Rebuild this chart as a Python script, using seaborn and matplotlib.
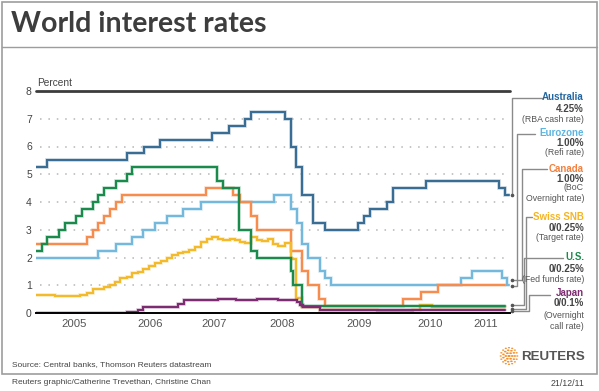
import matplotlib
matplotlib.use("Agg")
import matplotlib.pyplot as plt
import seaborn as sns
import pandas as pd
import numpy as np
from matplotlib.lines import Line2D
from matplotlib.patches import Rectangle, Circle
import matplotlib.patheffects as pe

# ---------------- data (decimal years, percent) ----------------
banks = ["Australia", "Eurozone", "Canada", "Swiss SNB", "U.S.", "Japan"]

aus_t = [2004.99, 2005.145, 2006.263, 2006.507, 2006.732, 2007.461, 2007.704, 2007.930,
         2008.014, 2008.493, 2008.573, 2008.648, 2008.728, 2008.892, 2009.052, 2009.525,
         2009.606, 2009.690, 2009.925, 2010.010, 2010.479, 2011.511, 2011.592, 2011.648]
aus_v = [5.25, 5.5, 5.75, 6.0, 6.25, 6.5, 6.75, 7.0, 7.25, 7.0, 6.0, 5.25, 4.25, 3.25,
         3.0, 3.25, 3.5, 3.75, 4.0, 4.5, 4.75, 4.5, 4.25, 4.25]

euro_t = [2004.99, 2005.863, 2006.108, 2006.342, 2006.497, 2006.662, 2006.827, 2007.061,
          2007.306, 2008.338, 2008.573, 2008.658, 2008.732, 2008.821, 2008.986, 2009.063,
          2009.141, 2010.968, 2011.131, 2011.545, 2011.615, 2011.648]
euro_v = [2.0, 2.25, 2.5, 2.75, 3.0, 3.25, 3.5, 3.75, 4.0, 4.25, 3.75, 3.25, 2.5, 2.0,
          1.5, 1.25, 1.0, 1.25, 1.5, 1.25, 1.0, 1.0]

can_t = [2004.99, 2005.708, 2005.785, 2005.863, 2005.944, 2006.028, 2006.108, 2006.193,
         2007.376, 2007.765, 2007.859, 2008.021, 2008.094, 2008.573, 2008.728, 2008.821,
         2008.976, 2009.056, 2010.159, 2010.404, 2010.644, 2011.592]
can_v = [2.5, 2.75, 3.0, 3.25, 3.5, 3.75, 4.0, 4.25, 4.5, 4.25, 4.0, 3.5, 3.0, 2.25,
         1.5, 1.0, 0.5, 0.25, 0.5, 0.75, 1.0, 1.0]

swiss_t = [2004.99, 2005.254, 2005.394, 2005.606, 2005.700, 2005.793, 2005.944, 2006.028,
           2006.099, 2006.169, 2006.263, 2006.342, 2006.427, 2006.497, 2006.577, 2006.662,
           2006.742, 2006.827, 2006.906, 2006.990, 2007.061, 2007.141, 2007.225, 2007.306,
           2007.390, 2007.469, 2007.554, 2007.624, 2007.718, 2007.789, 2007.859, 2007.930,
           2008.014, 2008.094, 2008.164, 2008.257, 2008.327, 2008.398, 2008.493, 2008.573,
           2008.648, 2008.728, 2008.986, 2009.789, 2010.155, 2010.296, 2010.394, 2010.559,
           2011.592]
swiss_v = [0.66, 0.63, 0.60, 0.65, 0.71, 0.85, 0.92, 1.0, 1.13, 1.25, 1.31, 1.43, 1.49,
           1.57, 1.69, 1.79, 1.87, 2.0, 2.09, 2.15, 2.21, 2.27, 2.39, 2.57, 2.67, 2.73,
           2.67, 2.63, 2.67, 2.63, 2.57, 2.51, 2.75, 2.63, 2.59, 2.65, 2.49, 2.43, 2.51,
           1.95, 0.53, 0.2, 0.12, 0.08, 0.05, 0.12, 0.28, 0.22, 0.22]

us_t = [2004.99, 2005.066, 2005.145, 2005.310, 2005.394, 2005.545, 2005.630, 2005.785,
        2005.863, 2005.944, 2006.108, 2006.263, 2006.334, 2007.531, 2007.615, 2007.849,
        2008.014, 2008.094, 2008.573, 2008.606, 2008.728, 2011.592]
us_v = [2.25, 2.5, 2.75, 3.0, 3.25, 3.5, 3.75, 4.0, 4.25, 4.5, 4.75, 5.0, 5.25, 4.75,
        4.5, 3.0, 2.25, 2.0, 1.5, 1.0, 0.25, 0.25]

jp_t = [2004.99, 2006.263, 2006.427, 2006.497, 2006.990, 2007.070, 2007.300, 2007.550,
        2007.800, 2008.100, 2008.400, 2008.658, 2008.704, 2008.751, 2008.986, 2011.592]
jp_v = [0.0, 0.03, 0.1, 0.23, 0.33, 0.48, 0.46, 0.49, 0.47, 0.49, 0.48, 0.4, 0.3, 0.2,
        0.1, 0.1]

year_labels = ["2005", "2006", "2007", "2008", "2009", "2010", "2011"]
year_ticks = [2006, 2007, 2008, 2009, 2010, 2011]
year_label_pos = [2005.517, 2006.587, 2007.490, 2008.451, 2009.532, 2010.535, 2011.324]

rate_now = ["4.25%", "1.00%", "1.00%", "0/0.25%", "0/0.25%", "0/0.1%"]
rate_desc = ["(RBA cash rate)", "(Refi rate)", "(BoC\nOvernight rate)", "(Target rate)",
             "(Fed funds rate)", "(Overnight\ncall rate)"]

line_colors = ["#3a6d94", "#74b9dc", "#f68d4e", "#f3bb2b", "#1b8a4d", "#7c2c70"]
label_colors = ["#2266a0", "#5db4e0", "#f2813f", "#f4b526", "#1b8a4d", "#7c2c70"]

series = {"Australia": (aus_t, aus_v), "Eurozone": (euro_t, euro_v),
          "Canada": (can_t, can_v), "Swiss SNB": (swiss_t, swiss_v),
          "U.S.": (us_t, us_v), "Japan": (jp_t, jp_v)}

frames = []
for b in banks:
    t, v = series[b]
    frames.append(pd.DataFrame({"date": t, "rate": v, "bank": b}))
df = pd.concat(frames, ignore_index=True)

# ---------------- figure ----------------
sns.set_style("white")
plt.rcParams["font.family"] = ["Liberation Sans", "DejaVu Sans"]

W, H = 599, 391
fig = plt.figure(figsize=(W / 100, H / 100), dpi=100)
fx = lambda px: px / W
fy = lambda py: 1 - py / H

ax = fig.add_axes([fx(36), fy(313), (510 - 36) / W, (313 - 91) / H])

x0 = 2005 + (36 - 37) / 71
x1 = 2005 + (510 - 37) / 71

sns.lineplot(data=df, x="date", y="rate", hue="bank", hue_order=banks,
             palette=dict(zip(banks, line_colors)), drawstyle="steps-post",
             estimator=None, sort=False, legend=False, linewidth=1.5, ax=ax, zorder=3)
for ln, c in zip(ax.get_lines(), line_colors):
    ln.set_path_effects([pe.Stroke(linewidth=2.6, foreground=c, alpha=0.28), pe.Normal()])
    ln.set_solid_joinstyle("miter")

ax.set_xlim(x0, x1)
ax.set_ylim(0, 8)
for s in ["top", "right", "left"]:
    ax.spines[s].set_visible(False)
ax.spines["bottom"].set_color("black")
ax.spines["bottom"].set_linewidth(1.4)
ax.spines["bottom"].set_zorder(5)

ax.axhline(8, color="#3c3c3c", lw=2.0, clip_on=False, zorder=4)
gx0 = 2005 + (40 - 37) / 71
ax.hlines([1, 2, 3, 4, 5, 6, 7], gx0, x1, colors="#b5b5b5", lw=1.1,
          linestyles=(0, (1, 4.5)), zorder=1)

ax.set_yticks(range(0, 9))
ax.set_yticklabels([str(i) for i in range(0, 9)])
ax.tick_params(axis="y", length=0, pad=3, labelsize=7.5, labelcolor="#444444")

ax.set_xticks(year_ticks)
ax.set_xticklabels([""] * len(year_ticks))
ax.tick_params(axis="x", which="major", direction="out", length=4.5, width=1.1,
               color="black")
ax.set_xticks(year_label_pos, minor=True)
ax.set_xticklabels(year_labels, minor=True)
ax.tick_params(axis="x", which="minor", length=0, pad=4, labelsize=8.2,
               labelcolor="#555555")
ax.set_xlabel("")
ax.set_ylabel("")
ax.grid(False)

fig.text(fx(37), fy(83), "Percent", fontsize=7.3, color="#444444", va="center")

# ---------------- frame & title ----------------
fig.add_artist(Rectangle((fx(1.5), fy(374)), (597 - 1.5) / W, (374 - 1.5) / H,
                         transform=fig.transFigure, fill=False, ec="#9d9d9d", lw=1.2))
fig.add_artist(Line2D([fx(1.5), fx(597)], [fy(47), fy(47)], color="#9d9d9d", lw=1.0))
fig.text(fx(11), fy(24), "World interest rates", fontsize=20.5, fontweight="bold",
         color="#3d3d3d", va="center", family=["Lato", "DejaVu Sans"])

fig.text(fx(12), fy(365), "Source: Central banks, Thomson Reuters datastream",
         fontsize=6.0, color="#444444", va="center")
fig.text(fx(12), fy(383), "Reuters graphic/Catherine Trevethan, Christine Chan",
         fontsize=6.0, color="#444444", va="center")
fig.text(fx(584), fy(383), "21/12/11", fontsize=6.3, color="#444444", va="center",
         ha="right")

# ---------------- right-hand labels ----------------
name_y = [97, 133, 169, 217.5, 256.5, 292.5]
val_y = [108.5, 143.5, 179.5, 228, 268.5, 302.5]
desc_y = [119.5, 153, 193, 237, 279, 321]
for i, b in enumerate(banks):
    fig.text(fx(584), fy(name_y[i]), b, fontsize=7.0, fontweight="bold",
             color=label_colors[i], ha="right", va="center")
    fig.text(fx(584), fy(val_y[i]), rate_now[i], fontsize=7.0, fontweight="bold",
             color="#444444", ha="right", va="center")
    fig.text(fx(584), fy(desc_y[i]), rate_desc[i], fontsize=6.3, color="#555555",
             ha="right", va="center", linespacing=1.25)

# leader lines from end of each series to label
def data_py(v):
    disp = ax.transData.transform((x1, v))
    return H - disp[1]

end_vals = [series[b][1][-1] for b in banks]
end_off = [0, 0.5, -5, 2, -1, 1]
vert_x = [512.3, 516.7, 521.7, 526, 523.5, 529.3]
lab_x = [541.7, 535, 546.7, 531.7, 563, 550]
lab_line_y = [98.3, 134, 169.3, 217.3, 257.7, 295]
for i in range(len(banks)):
    ye = data_py(end_vals[i]) + end_off[i]
    xs = [513, vert_x[i], vert_x[i], lab_x[i]]
    ys = [ye, ye, lab_line_y[i], lab_line_y[i]]
    fig.add_artist(Line2D([fx(p) for p in xs], [fy(p) for p in ys], color="#8a8a8a",
                          lw=1.0))
    fig.add_artist(Line2D([fx(511.5)], [fy(ye)], marker="o", ms=1.6, color="#555555",
                          lw=0))

# ---------------- Reuters logo ----------------
cx, cy = 509, 356
for r, n, s in [(0, 1, 1.6), (3.2, 6, 1.4), (5.8, 11, 1.3), (8.3, 16, 1.1)]:
    for k in range(n):
        a = 2 * np.pi * k / n
        fig.add_artist(Circle((fx(cx + r * np.cos(a)), fy(cy + r * np.sin(a))),
                              s / W, transform=fig.transFigure, color="#f4912f", lw=0))
fig.text(fx(521), fy(357), "REUTERS", fontsize=9.6, fontweight="bold", color="#555555",
         va="center")

fig.savefig("out.png", dpi=100)
